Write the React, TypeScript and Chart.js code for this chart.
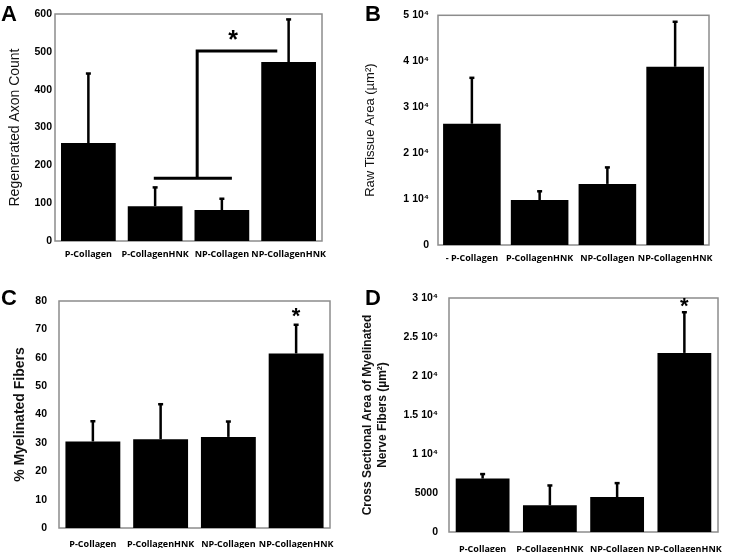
import React, { useEffect, useRef } from "react";
import { Chart, registerables } from "chart.js";
Chart.register(...registerables);

// ---------- data ----------
const GROUPS = ["P-Collagen", "P-CollagenHNK", "NP-Collagen", "NP-CollagenHNK"];
const GROUPS_B = ["- P-Collagen", "P-CollagenHNK", "NP-Collagen", "NP-CollagenHNK"];

const AXON_COUNT = [259, 92, 82, 473];
const AXON_COUNT_ERR = [185, 51, 31, 114];

const TISSUE_AREA = [26400, 9800, 13300, 38800];
const TISSUE_AREA_ERR = [10100, 2000, 3700, 9900];

const MYELINATED_PCT = [30.5, 31.3, 32.1, 61.5];
const MYELINATED_PCT_ERR = [7.3, 12.5, 5.6, 10.3];

const FIBER_AREA = [6850, 3420, 4490, 22960];
const FIBER_AREA_ERR = [640, 2610, 1840, 5280];

const TICKS_B = ["0", "1 10⁴", "2 10⁴", "3 10⁴", "4 10⁴", "5 10⁴"];
const TICKS_D = ["0", "5000", "1 10⁴", "1.5 10⁴", "2 10⁴", "2.5 10⁴", "3 10⁴"];

// significance marks, in data units (category index, value)
const A_BRACKET_LOW = { from: 0.98, to: 2.15, y: 166 };
const A_BRACKET_HIGH = { from: 1.63, to: 2.83, y: 502 };
const A_STAR = { x: 2.17, y: 547 };
const C_STAR = { x: 3, y: 76.5 };
const D_STAR = { x: 3, y: 29600 };

const SANS = "'Liberation Sans', Arial, sans-serif";
const LABEL_FONT = "'Open Sans', 'Liberation Sans', sans-serif";

function drawStar(chart: any, p: { x: number; y: number }, size: number) {
  const { ctx, scales } = chart;
  const x = scales.x.getPixelForValue(p.x);
  const y = scales.y.getPixelForValue(p.y);
  ctx.save();
  ctx.fillStyle = "#000";
  ctx.font = `bold ${size}px ${SANS}`;
  ctx.textAlign = "center";
  ctx.textBaseline = "alphabetic";
  ctx.fillText("*", x, y + size * 0.56);
  ctx.restore();
}

function annotateA(chart: any) {
  const { ctx, scales } = chart;
  const X = (v: number) => scales.x.getPixelForValue(v);
  const Y = (v: number) => scales.y.getPixelForValue(v);
  ctx.save();
  ctx.strokeStyle = "#000";
  ctx.lineWidth = 3;
  ctx.beginPath();
  ctx.moveTo(X(A_BRACKET_LOW.from), Y(A_BRACKET_LOW.y));
  ctx.lineTo(X(A_BRACKET_LOW.to), Y(A_BRACKET_LOW.y));
  ctx.moveTo(X(A_BRACKET_HIGH.from), Y(A_BRACKET_LOW.y));
  ctx.lineTo(X(A_BRACKET_HIGH.from), Y(A_BRACKET_HIGH.y));
  ctx.lineTo(X(A_BRACKET_HIGH.to), Y(A_BRACKET_HIGH.y));
  ctx.stroke();
  ctx.restore();
  drawStar(chart, A_STAR, 25);
}

type PanelCfg = {
  letter: string;
  letterPos: [number, number];
  place: { left: number; top: number; w: number; h: number };
  area: { l: number; t: number; r: number; b: number };
  labels: string[];
  values: number[];
  errors: number[];
  yMax: number;
  yStep: number;
  tickLabels?: string[];
  tickPad: number;
  xPad: number;
  title: string | string[];
  titleSize: number;
  titleBold: boolean;
  titleLH: number;
  titleX: number; // desired center x of first title line, canvas coords
  barPct: number;
  annotate?: (chart: any) => void;
};

const PANELS: PanelCfg[] = [
  {
    letter: "A",
    letterPos: [1, 4],
    place: { left: 0, top: 0, w: 355, h: 278 },
    area: { l: 55, t: 14, r: 322, b: 241 },
    labels: GROUPS,
    values: AXON_COUNT,
    errors: AXON_COUNT_ERR,
    yMax: 600,
    yStep: 100,
    tickPad: 3,
    xPad: 8,
    title: "Regenerated Axon Count",
    titleSize: 14,
    titleBold: false,
    titleLH: 1.2,
    titleX: 15,
    barPct: 0.82,
    annotate: annotateA,
  },
  {
    letter: "B",
    letterPos: [10, 4],
    place: { left: 355, top: 0, w: 395, h: 278 },
    area: { l: 438, t: 12, r: 709, b: 245 },
    labels: GROUPS_B,
    values: TISSUE_AREA,
    errors: TISSUE_AREA_ERR,
    yMax: 50000,
    yStep: 10000,
    tickLabels: TICKS_B,
    tickPad: 9,
    xPad: 8,
    title: "Raw Tissue Area (µm²)",
    titleSize: 13,
    titleBold: false,
    titleLH: 1.2,
    titleX: 15,
    barPct: 0.85,
  },
  {
    letter: "C",
    letterPos: [1, 10],
    place: { left: 0, top: 278, w: 355, h: 278 },
    area: { l: 59, t: 301, r: 330, b: 528 },
    labels: GROUPS,
    values: MYELINATED_PCT,
    errors: MYELINATED_PCT_ERR,
    yMax: 80,
    yStep: 10,
    tickPad: 12,
    xPad: 11,
    title: "% Myelinated Fibers",
    titleSize: 14,
    titleBold: true,
    titleLH: 1.2,
    titleX: 20,
    barPct: 0.81,
    annotate: (c) => drawStar(c, C_STAR, 22),
  },
  {
    letter: "D",
    letterPos: [10, 10],
    place: { left: 355, top: 278, w: 395, h: 278 },
    area: { l: 449, t: 298, r: 718, b: 532 },
    labels: GROUPS,
    values: FIBER_AREA,
    errors: FIBER_AREA_ERR,
    yMax: 30000,
    yStep: 5000,
    tickLabels: TICKS_D,
    tickPad: 11,
    xPad: 12,
    title: ["Cross Sectional Area of Myelinated", "Nerve Fibers (µm²)"],
    titleSize: 12,
    titleBold: true,
    titleLH: 1.25,
    titleX: 13,
    barPct: 0.8,
    annotate: (c) => drawStar(c, D_STAR, 22),
  },
];

const X_HEIGHT = 20;

function Panel({ cfg }: { cfg: PanelCfg }) {
  const ref = useRef<HTMLCanvasElement | null>(null);
  useEffect(() => {
    const { place, area } = cfg;
    const yWidth = area.l - place.left;
    const padTop = area.t - place.top;
    const padRight = place.left + place.w - area.r;
    const padBottom = place.top + place.h - area.b - X_HEIGHT;
    const lineH = cfg.titleSize * cfg.titleLH;

    const panelPlugin = {
      id: "panelDecor" + cfg.letter,
      beforeDatasetsDraw(chart: any) {
        const { ctx, chartArea } = chart;
        ctx.save();
        ctx.strokeStyle = "#8c8c8c";
        ctx.lineWidth = 1.5;
        ctx.strokeRect(chartArea.left, chartArea.top, chartArea.right - chartArea.left, chartArea.bottom - chartArea.top);
        ctx.restore();
      },
      afterDatasetsDraw(chart: any) {
        const { ctx, scales } = chart;
        const meta = chart.getDatasetMeta(0);
        ctx.save();
        ctx.strokeStyle = "#000";
        ctx.lineWidth = 2.5;
        meta.data.forEach((el: any, i: number) => {
          const top = scales.y.getPixelForValue(cfg.values[i] + cfg.errors[i]);
          ctx.beginPath();
          ctx.moveTo(el.x, el.y);
          ctx.lineTo(el.x, top);
          ctx.stroke();
          ctx.beginPath();
          ctx.moveTo(el.x - 2.5, top + 0.5);
          ctx.lineTo(el.x + 2.5, top + 0.5);
          ctx.stroke();
        });
        ctx.restore();
        if (cfg.annotate) cfg.annotate(chart);
      },
      afterDraw(chart: any) {
        const { ctx } = chart;
        ctx.save();
        ctx.fillStyle = "#000";
        ctx.font = `bold 22px ${SANS}`;
        ctx.textBaseline = "top";
        ctx.textAlign = "left";
        ctx.fillText(cfg.letter, cfg.letterPos[0], cfg.letterPos[1]);
        ctx.restore();
      },
    };

    const chart = new Chart(ref.current as HTMLCanvasElement, {
      type: "bar",
      data: {
        labels: cfg.labels,
        datasets: [
          {
            data: cfg.values,
            backgroundColor: "#000",
            borderWidth: 0,
            barPercentage: cfg.barPct,
            categoryPercentage: 1,
          },
        ],
      },
      options: {
        responsive: false,
        animation: false,
        events: [],
        layout: { padding: { left: 0, top: padTop, right: padRight, bottom: padBottom } },
        plugins: { legend: { display: false }, tooltip: { enabled: false } },
        scales: {
          x: {
            grid: { display: false, drawTicks: false },
            border: { display: false },
            ticks: {
              color: "#000",
              font: { family: LABEL_FONT, size: 9, weight: "bold" },
              padding: cfg.xPad,
              maxRotation: 0,
              minRotation: 0,
              autoSkip: false,
            },
            afterFit: (s: any) => {
              s.height = X_HEIGHT;
            },
          },
          y: {
            min: 0,
            max: cfg.yMax,
            grid: { display: false, drawTicks: false },
            border: { display: false },
            ticks: {
              stepSize: cfg.yStep,
              color: "#000",
              padding: cfg.tickPad,
              font: { family: SANS, size: 10.5, weight: "bold" },
              callback: (v: any) =>
                cfg.tickLabels ? cfg.tickLabels[Math.round(Number(v) / cfg.yStep)] : String(v),
            },
            title: {
              display: true,
              text: cfg.title,
              color: "#111",
              font: {
                family: SANS,
                size: cfg.titleSize,
                weight: cfg.titleBold ? "bold" : "normal",
                lineHeight: cfg.titleLH,
              },
              padding: { top: cfg.titleX - lineH / 2, bottom: 0 },
            },
            afterFit: (s: any) => {
              s.width = yWidth;
            },
          },
        },
      },
      plugins: [panelPlugin],
    } as any);
    return () => chart.destroy();
  }, [cfg]);

  return (
    <canvas
      ref={ref}
      width={cfg.place.w}
      height={cfg.place.h}
      style={{
        position: "absolute",
        left: cfg.place.left,
        top: cfg.place.top,
        width: cfg.place.w,
        height: cfg.place.h,
      }}
    />
  );
}

export default function App() {
  return (
    <div
      style={{
        position: "absolute",
        left: 0,
        top: 0,
        width: 750,
        height: 556,
        background: "#fff",
        overflow: "hidden",
      }}
    >
      {PANELS.map((p) => (
        <Panel key={p.letter} cfg={p} />
      ))}
    </div>
  );
}
